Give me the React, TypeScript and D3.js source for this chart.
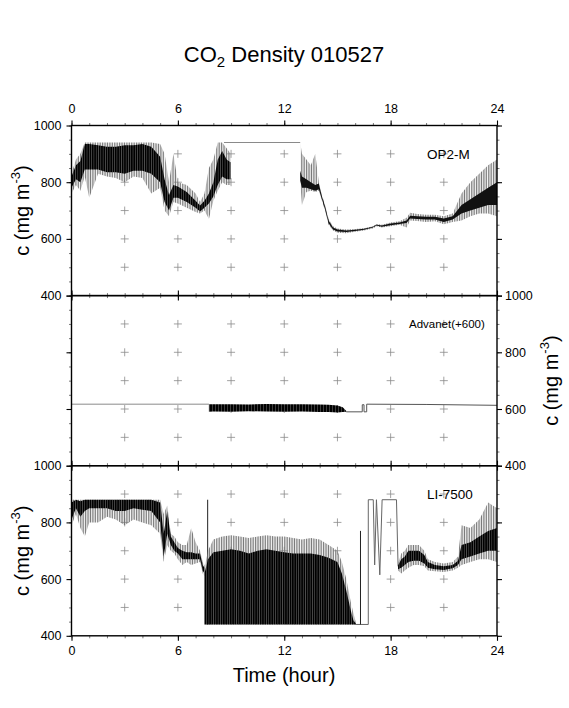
// @ts-nocheck
import React, { useEffect, useRef } from "react";
import {
  select,
  scaleLinear,
  area,
  line,
  axisTop,
  axisBottom,
  axisLeft,
  axisRight,
  range,
} from "d3";

// ---- OP2-M (top panel) ----
const op2HoursA = [0, 0.25, 0.5, 0.75, 1, 1.5, 2, 2.5, 3, 3.5, 4, 4.5, 5, 5.25, 5.5, 5.75, 6, 6.5, 7, 7.25, 7.5, 7.75, 8, 8.25, 8.5, 8.75, 8.97];
const op2LoA = [760, 790, 770, 820, 745, 830, 820, 815, 800, 820, 815, 760, 780, 700, 680, 730, 725, 710, 695, 690, 700, 670, 735, 770, 800, 790, 790];
const op2HiA = [830, 880, 900, 940, 940, 940, 940, 940, 940, 940, 940, 940, 935, 900, 800, 900, 800, 790, 760, 730, 760, 850, 880, 940, 940, 920, 900];
const op2CoreLoA = [780, 810, 800, 845, 845, 845, 835, 835, 830, 840, 840, 830, 800, 730, 700, 745, 745, 730, 710, 697, 710, 725, 750, 790, 820, 810, 810];
const op2CoreHiA = [820, 860, 875, 935, 935, 930, 925, 925, 930, 930, 935, 925, 890, 810, 755, 790, 785, 765, 735, 718, 735, 760, 800, 880, 910, 880, 870];

const op2GapHours = [8.6, 12.9];
const op2GapValues = [940, 940];

const op2HoursB = [12.9, 13, 13.25, 13.5, 13.75, 13.95, 14.1, 14.3, 14.5, 14.75, 15, 15.5, 16, 16.5, 17, 17.2, 17.5, 18, 18.5, 18.9, 19.1, 19.5, 20, 20.5, 21, 21.5, 22, 22.5, 23, 23.5, 24];
const op2LoB = [800, 720, 765, 770, 765, 770, 740, 700, 650, 630, 622, 620, 625, 630, 637, 645, 640, 645, 650, 640, 665, 663, 660, 662, 652, 660, 665, 680, 690, 690, 680];
const op2HiB = [940, 900, 880, 860, 900, 800, 760, 720, 670, 645, 637, 633, 635, 638, 645, 653, 650, 658, 662, 675, 692, 688, 685, 685, 680, 690, 760, 800, 830, 860, 880];
const op2CoreLoB = [805, 780, 780, 775, 770, 775, 745, 705, 655, 633, 626, 624, 628, 632, 640, 647, 643, 648, 653, 656, 672, 670, 668, 668, 660, 668, 690, 700, 710, 720, 720];
const op2CoreHiB = [840, 820, 810, 800, 790, 795, 755, 715, 665, 640, 633, 630, 632, 636, 643, 650, 647, 654, 658, 665, 682, 680, 678, 678, 672, 680, 720, 740, 760, 780, 800];

// ---- Advanet(+600) (middle panel) ----
const advHours = [7.75, 8, 9, 10, 11, 12, 13, 14, 14.5, 15, 15.3, 15.5];
const advLo = [590, 591, 590, 592, 591, 590, 591, 589, 589, 588, 589, 590];
const advHi = [617, 617, 617, 616, 618, 617, 617, 616, 615, 612, 606, 593];
const advLinkAHours = [0, 7.75];
const advLinkAValues = [617, 617];
const advLinkBHours = [15.5, 16.4, 16.4, 16.5, 16.5, 16.65, 16.65, 20, 24];
const advLinkBValues = [590, 590, 615, 615, 590, 590, 617, 616, 613];

// ---- LI-7500 (bottom panel) ----
const liHoursA = [0, 0.25, 0.5, 0.75, 1, 1.5, 2, 2.5, 3, 3.5, 4, 4.5, 5, 5.2, 5.4, 5.6, 5.8, 6, 6.25, 6.5, 6.75, 7, 7.25, 7.4, 7.5];
const liLoA = [790, 830, 780, 750, 800, 800, 820, 810, 790, 810, 800, 790, 760, 660, 720, 700, 690, 670, 650, 660, 650, 655, 660, 620, 610];
const liHiA = [880, 880, 880, 880, 880, 880, 880, 880, 880, 880, 880, 880, 880, 830, 860, 760, 750, 730, 720, 720, 780, 730, 700, 660, 650];
const liCoreLoA = [810, 850, 820, 840, 850, 850, 850, 840, 840, 850, 845, 840, 800, 680, 760, 720, 700, 690, 670, 670, 670, 670, 670, 630, 620];
const liCoreHiA = [870, 880, 875, 880, 880, 880, 880, 880, 880, 880, 880, 880, 870, 760, 840, 750, 730, 710, 700, 695, 695, 690, 690, 650, 640];

const liHoursB = [7.5, 7.7, 8, 8.5, 9, 9.5, 10, 10.5, 11, 11.5, 12, 12.5, 13, 13.5, 14, 14.5, 15, 15.25, 15.5, 15.75, 15.9, 16.05];
const liLoB = [440, 440, 440, 440, 440, 440, 440, 440, 440, 440, 440, 440, 440, 440, 440, 440, 440, 440, 440, 440, 440, 440];
const liHiB = [640, 700, 740, 750, 755, 750, 745, 750, 755, 750, 750, 745, 740, 745, 740, 720, 700, 660, 600, 520, 480, 445];
const liCoreHiB = [620, 670, 695, 700, 705, 700, 690, 700, 705, 700, 695, 690, 690, 690, 685, 675, 660, 620, 560, 490, 455, 442];

const liSpikeHours = [7.68, 16.3];
const liSpikeTops = [880, 770];

const liLinkHours = [16.05, 16.74, 16.74, 17.02, 17.1, 17.2, 17.39, 17.52, 18.33, 18.42];
const liLinkValues = [440, 440, 880, 880, 650, 880, 615, 880, 880, 645];

const liHoursC = [18.42, 18.6, 18.8, 19, 19.3, 19.6, 19.9, 20.1, 20.5, 21, 21.5, 21.8, 22, 22.5, 23, 23.5, 24];
const liLoC = [630, 620, 630, 640, 650, 650, 645, 630, 628, 625, 630, 640, 650, 660, 670, 670, 660];
const liHiC = [655, 690, 700, 720, 720, 720, 700, 670, 660, 655, 660, 680, 790, 780, 810, 870, 850];
const liCoreLoC = [635, 640, 650, 660, 665, 665, 655, 640, 635, 632, 638, 650, 670, 680, 690, 700, 700];
const liCoreHiC = [648, 670, 680, 700, 700, 700, 685, 660, 650, 645, 650, 665, 720, 730, 750, 770, 780];

// ---- axes ----
const hourLabels = [0, 6, 12, 18, 24];
const crossHours = [3, 6, 9, 12, 15, 18, 21];
const crossValues = [500, 600, 700, 800, 900];
const valueLabels = [400, 600, 800, 1000];

const FONT = "Liberation Sans, Arial, Helvetica, sans-serif";

export default function App() {
  const ref = useRef(null);

  useEffect(() => {
    const svg = select(ref.current);
    svg.selectAll("*").remove();

    const left = 71.5;
    const right = 497;
    const tops = [125.5, 295.6, 465.7];
    const h = 170.1;

    const x = scaleLinear().domain([0, 24]).range([left, right]);
    const ys = tops.map((t) => scaleLinear().domain([400, 1000]).range([t + h, t]));

    // stripe textures that imitate the dense raw samples
    const defs = svg.append("defs");
    const stripes = (id, w, lineW, color, bg) => {
      const pat = defs
        .append("pattern")
        .attr("id", id)
        .attr("patternUnits", "userSpaceOnUse")
        .attr("width", w)
        .attr("height", 20);
      if (bg) pat.append("rect").attr("width", w).attr("height", 20).attr("fill", bg);
      pat
        .append("rect")
        .attr("width", lineW)
        .attr("height", 20)
        .attr("fill", color);
    };
    stripes("spikes", 1.7, 0.9, "#777", null);
    stripes("dense", 2.3, 1.6, "#000", "#555");
    stripes("blocks", 3, 2.4, "#000", "#666");

    const band = (g, y, hours, lo, hi, fill) => {
      g.append("path")
        .datum(hours.map((d, i) => [d, lo[i], hi[i]]))
        .attr("fill", fill)
        .attr(
          "d",
          area()
            .x((d) => x(d[0]))
            .y0((d) => y(d[1]))
            .y1((d) => y(d[2]))
        );
    };
    const trace = (g, y, hours, values, color, w) => {
      g.append("path")
        .datum(hours.map((d, i) => [d, values[i]]))
        .attr("fill", "none")
        .attr("stroke", color)
        .attr("stroke-width", w)
        .attr(
          "d",
          line()
            .x((d) => x(d[0]))
            .y((d) => y(d[1]))
        );
    };

    // title
    const title = svg
      .append("text")
      .attr("x", 284)
      .attr("y", 62)
      .attr("text-anchor", "middle")
      .attr("font-family", FONT)
      .attr("font-size", 22);
    title.append("tspan").text("CO");
    title.append("tspan").attr("font-size", 15).attr("dy", 5).text("2");
    title.append("tspan").attr("dy", -5).text(" Density 010527");

    tops.forEach((top, p) => {
      const y = ys[p];
      const g = svg.append("g");

      // grid crosses
      crossHours.forEach((ch) => {
        crossValues.forEach((cv) => {
          g.append("path")
            .attr("d", `M${x(ch) - 4},${y(cv)}h8M${x(ch)},${y(cv) - 4}v8`)
            .attr("stroke", "#8a8a8a")
            .attr("stroke-width", 0.8);
        });
      });

      const styleAxis = (sel, minor) => {
        sel.select(".domain").remove();
        sel.selectAll("line").attr("stroke", minor ? "#555" : "#000").attr("stroke-width", minor ? 0.8 : 1.1);
        sel.selectAll("text").attr("font-family", FONT).attr("font-size", 12.5).attr("fill", "#000");
      };

      // x ticks top & bottom
      [
        [axisTop, top, p === 0],
        [axisBottom, top + h, p === 2],
      ].forEach(([ax, yy, labelled]) => {
        g.append("g")
          .attr("transform", `translate(0,${yy})`)
          .call(ax(x).tickValues(range(0, 25, 1)).tickSize(2.5).tickFormat(""))
          .call((s) => styleAxis(s, true));
        g.append("g")
          .attr("transform", `translate(0,${yy})`)
          .call(
            ax(x)
              .tickValues(hourLabels)
              .tickSize(5)
              .tickPadding(ax === axisTop ? 8 : 5)
              .tickFormat(labelled ? (d) => d : "")
          )
          .call((s) => styleAxis(s, false));
      });

      // y ticks left & right
      [
        [axisLeft, left, p !== 1, 5],
        [axisRight, right, p === 1, 3],
      ].forEach(([ax, xx, labelled, pad]) => {
        g.append("g")
          .attr("transform", `translate(${xx},0)`)
          .call(ax(y).tickValues(range(400, 1001, 50)).tickSize(2.5).tickFormat(""))
          .call((s) => styleAxis(s, true));
        g.append("g")
          .attr("transform", `translate(${xx},0)`)
          .call(
            ax(y)
              .tickValues(valueLabels)
              .tickSize(5)
              .tickPadding(pad)
              .tickFormat(labelled ? (d) => d : "")
          )
          .call((s) => styleAxis(s, false));
      });
    });

    // data: OP2-M
    const g1 = svg.append("g");
    trace(g1, ys[0], op2GapHours, op2GapValues, "#8a8a8a", 1);
    band(g1, ys[0], op2HoursA, op2LoA, op2HiA, "url(#spikes)");
    band(g1, ys[0], op2HoursA, op2CoreLoA, op2CoreHiA, "url(#dense)");
    band(g1, ys[0], op2HoursB, op2LoB, op2HiB, "url(#spikes)");
    band(g1, ys[0], op2HoursB, op2CoreLoB, op2CoreHiB, "#111");

    // data: Advanet
    const g2 = svg.append("g");
    trace(g2, ys[1], advLinkAHours, advLinkAValues, "#8a8a8a", 1);
    trace(g2, ys[1], advLinkBHours, advLinkBValues, "#555", 1);
    band(g2, ys[1], advHours, advLo, advHi, "url(#blocks)");

    // data: LI-7500
    const g3 = svg.append("g");
    trace(g3, ys[2], liLinkHours, liLinkValues, "#666", 1);
    liSpikeHours.forEach((sh, i) =>
      trace(g3, ys[2], [sh, sh], [440, liSpikeTops[i]], "#222", 1)
    );
    band(g3, ys[2], liHoursA, liLoA, liHiA, "url(#spikes)");
    band(g3, ys[2], liHoursA, liCoreLoA, liCoreHiA, "url(#dense)");
    band(g3, ys[2], liHoursB, liLoB, liHiB, "url(#spikes)");
    band(g3, ys[2], liHoursB, liLoB, liCoreHiB, "url(#dense)");
    band(g3, ys[2], liHoursC, liLoC, liHiC, "url(#spikes)");
    band(g3, ys[2], liHoursC, liCoreLoC, liCoreHiC, "url(#dense)");

    // frames
    tops.forEach((top) => {
      svg
        .append("rect")
        .attr("x", left)
        .attr("y", top)
        .attr("width", right - left)
        .attr("height", h)
        .attr("fill", "none")
        .attr("stroke", "#000")
        .attr("stroke-width", 1.4);
    });

    // panel names
    [
      ["OP2-M", 427, 159, 13.5],
      ["Advanet(+600)", 409, 328, 11.5],
      ["LI-7500", 427, 499, 13.5],
    ].forEach(([t, tx, ty, fs]) => {
      svg
        .append("text")
        .attr("x", tx)
        .attr("y", ty)
        .attr("font-family", FONT)
        .attr("font-size", fs)
        .text(t);
    });

    // y labels
    const yLabel = (cx, cy) => {
      const t = svg
        .append("text")
        .attr("transform", `translate(${cx},${cy}) rotate(-90)`)
        .attr("text-anchor", "middle")
        .attr("font-family", FONT)
        .attr("font-size", 20);
      t.append("tspan").text("c (mg m");
      t.append("tspan").attr("font-size", 13).attr("dy", -9).text("-3");
      t.append("tspan").attr("dy", 9).text(")");
    };
    yLabel(29, tops[0] + h / 2);
    yLabel(558, tops[1] + h / 2);
    yLabel(29, tops[2] + h / 2);

    // x label
    svg
      .append("text")
      .attr("x", 284)
      .attr("y", 682)
      .attr("text-anchor", "middle")
      .attr("font-family", FONT)
      .attr("font-size", 20)
      .text("Time (hour)");
  }, []);

  return (
    <svg
      ref={ref}
      width={569}
      height={708}
      style={{ position: "absolute", left: 0, top: 0, background: "#fff" }}
    />
  );
}
